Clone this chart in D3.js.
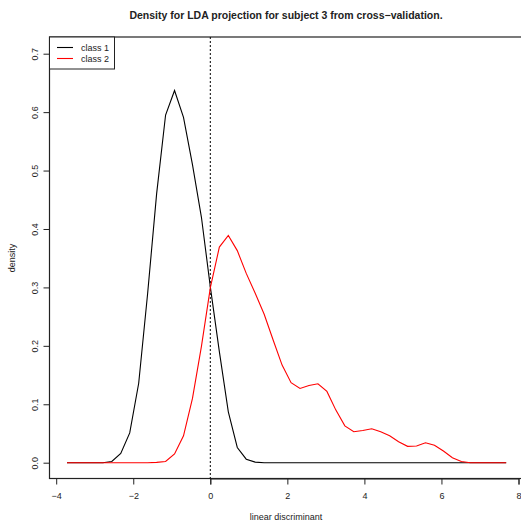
<!DOCTYPE html>
<html>
<head>
<meta charset="utf-8">
<script src="https://d3js.org/d3.v7.min.js"></script>
<style>
    body { margin: 0; background: #fff; }
    svg text { font-family: "Liberation Sans", Arial, Helvetica, sans-serif; fill: #222; }
</style>
</head>
<body>
<div id="chart"></div>
<script>
    // grid of x positions (50 points, -3.72 .. 7.68)
    const xStart = -3.72, xEnd = 7.68, nPts = 50;
    const xs = d3.range(nPts).map(i => xStart + i * (xEnd - xStart) / (nPts - 1));

    const class1 = [0, 0, 0, 0, 0, 0.002, 0.016, 0.051, 0.136, 0.29,
        0.46, 0.595, 0.637, 0.591, 0.51, 0.42, 0.30, 0.19, 0.087, 0.026,
        0.006, 0.001, 0, 0, 0, 0, 0, 0, 0, 0,
        0, 0, 0, 0, 0, 0, 0, 0, 0, 0,
        0, 0, 0, 0, 0, 0, 0, 0, 0, 0];
    const class2 = [0, 0, 0, 0, 0, 0, 0, 0, 0, 0,
        0.0005, 0.002, 0.015, 0.046, 0.11, 0.199, 0.30, 0.369, 0.389, 0.363,
        0.324, 0.29, 0.254, 0.21, 0.167, 0.137, 0.127, 0.132, 0.135, 0.122,
        0.09, 0.063, 0.053, 0.055, 0.058, 0.053, 0.046, 0.036, 0.028, 0.0286,
        0.034, 0.03, 0.02, 0.0086, 0.002, 0, 0, 0, 0, 0];

    const xTicks = [-4, -2, 0, 2, 4, 6, 8];
    const yTicks = [0, 0.1, 0.2, 0.3, 0.4, 0.5, 0.6, 0.7];
    const series = [
        {name: "class 1", color: "#000", values: class1},
        {name: "class 2", color: "#ff0000", values: class2}
    ];

    const W = 521, H = 526;
    const box = {left: 49.5, right: 521, top: 37, bottom: 478.5};

    const x = d3.scaleLinear().domain([0, 8]).range([210.3, 518.5]);
    const y = d3.scaleLinear().domain([0, 0.7]).range([462.7, 53.7]);

    const svg = d3.select("#chart").append("svg")
        .attr("width", W).attr("height", H);

    // title
    svg.append("text")
        .attr("x", 286).attr("y", 18.5)
        .attr("text-anchor", "middle")
        .attr("font-size", "10.5px").attr("font-weight", "bold")
        .text("Density for LDA projection for subject 3 from cross\u2212validation.");

    // x axis
    const xAxis = svg.append("g")
        .attr("transform", `translate(0, ${box.bottom})`)
        .call(d3.axisBottom(x).tickValues(xTicks).tickSize(6).tickPadding(8)
            .tickFormat(d => d < 0 ? "\u2212" + Math.abs(d) : d));
    xAxis.select(".domain").attr("stroke", "#222");
    xAxis.selectAll("line").attr("stroke", "#222");
    xAxis.selectAll("text").attr("font-size", "9px").style("font-family", null);

    // y axis
    const yAxis = svg.append("g")
        .attr("transform", `translate(${box.left}, 0)`)
        .call(d3.axisLeft(y).tickValues(yTicks).tickSize(6).tickFormat(d3.format(".1f")));
    yAxis.select(".domain").remove();
    yAxis.selectAll("line").attr("stroke", "#222");
    yAxis.selectAll("text")
        .attr("x", null).attr("dy", null)
        .attr("text-anchor", "middle")
        .attr("font-size", "9px")
        .attr("transform", "translate(-12,0) rotate(-90)");

    // plot box
    svg.append("rect")
        .attr("x", box.left).attr("y", box.top)
        .attr("width", box.right - box.left + 2).attr("height", box.bottom - box.top)
        .attr("fill", "none").attr("stroke", "#222").attr("stroke-width", 1.2);

    // dotted line at zero
    svg.append("line")
        .attr("x1", x(0)).attr("x2", x(0))
        .attr("y1", box.top).attr("y2", box.bottom)
        .attr("stroke", "#000").attr("stroke-dasharray", "2,2");

    const line = d3.line().x((d, i) => x(xs[i])).y(d => y(d));
    series.forEach(s => {
        svg.append("path")
            .attr("d", line(s.values))
            .attr("fill", "none").attr("stroke", s.color).attr("stroke-width", 1.1);
    });

    // axis labels
    svg.append("text")
        .attr("x", 286).attr("y", 520)
        .attr("text-anchor", "middle").attr("font-size", "9px")
        .text("linear discriminant");
    svg.append("text")
        .attr("transform", "translate(15, 258) rotate(-90)")
        .attr("text-anchor", "middle").attr("font-size", "9px")
        .text("density");

    // legend
    const lg = svg.append("g");
    lg.append("rect")
        .attr("x", box.left).attr("y", box.top)
        .attr("width", 65).attr("height", 32)
        .attr("fill", "#fff").attr("stroke", "#222");
    series.forEach((s, i) => {
        const ly = 47.5 + i * 11;
        lg.append("line")
            .attr("x1", 57).attr("x2", 73).attr("y1", ly).attr("y2", ly)
            .attr("stroke", s.color).attr("stroke-width", 1.1);
        lg.append("text")
            .attr("x", 81).attr("y", ly + 3)
            .attr("font-size", "9px")
            .text(s.name);
    });
</script>
</body>
</html>
